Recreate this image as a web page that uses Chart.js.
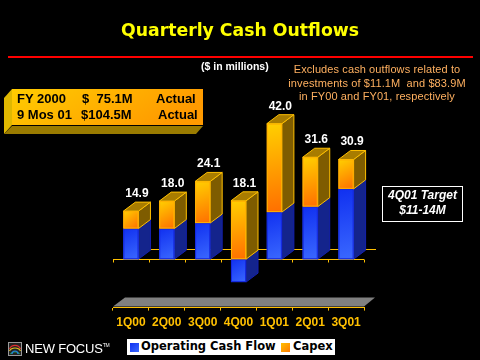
<!DOCTYPE html>
<html>
<head>
<meta charset="utf-8">
<style>
  html, body { margin: 0; padding: 0; background: #000; }
  #stage { position: relative; width: 480px; height: 360px; overflow: hidden; background: #000; }
  #chart { position: absolute; left: 0; top: 0; }
  .txt { position: absolute; white-space: pre; font-family: "Liberation Sans", sans-serif; }
  #title { left: 0; width: 480px; top: 20px; text-align: center; color: #ffff00; font: bold 17.3px "DejaVu Sans", sans-serif; }
  #rule { position: absolute; left: 8px; top: 56px; width: 465px; height: 2px; background: #ff0000; }
  #units { left: 201px; top: 60px; color: #fff; font-size: 10.5px; font-weight: bold; }
  #note { left: 254px; width: 246px; top: 63px; text-align: center; color: #ffb060; font-size: 11px; line-height: 13.5px; letter-spacing: 0.1px; }
  #box { position: absolute; left: 4px; top: 89px; width: 200px; height: 46px; }
  .boxline { color: #000; font-size: 13px; font-weight: bold; }
  #target { position: absolute; left: 382px; top: 186px; width: 79px; height: 33px; border: 1px solid #fff; color: #fff; font: italic bold 12px/14.5px "Liberation Sans", sans-serif; text-align: center; padding-top: 1px; white-space: pre; }
  #legend { position: absolute; left: 127px; top: 339px; width: 208px; height: 16px; background: #fff; color: #000; font: bold 11.5px/15px "DejaVu Sans", sans-serif; }
  #legend span { position: absolute; top: 0; white-space: pre; }
  #legend i { position: absolute; top: 4px; width: 9px; height: 9px; }
  #brand { left: 25px; top: 341px; color: #fff; font-size: 13px; letter-spacing: -0.2px; }
  #logo { position: absolute; left: 8px; top: 342px; }
</style>
</head>
<body>
<div id="stage">
  <canvas id="chart" width="480" height="360"></canvas>
  <div class="txt" id="title">Quarterly Cash Outflows</div>
  <div id="rule"></div>
  <div class="txt" id="units">($ in millions)</div>
  <div class="txt" id="note">Excludes cash outflows related to
investments of $11.1M  and $83.9M
in FY00 and FY01, respectively</div>
  <svg id="box" viewBox="0 0 200 46">
    <defs>
      <linearGradient id="boxFill" x1="0" y1="0" x2="1" y2="0.3">
        <stop offset="0" stop-color="#ffcc00"/>
        <stop offset="1" stop-color="#ff9a00"/>
      </linearGradient>
    </defs>
    <polygon points="0,9 8,0 8,36 0,45" fill="#e0b800"/>
    <polygon points="8,37 199,37 192,45 0,45" fill="#9a7b00"/>
    <rect x="8" y="0" width="191" height="36" fill="url(#boxFill)"/>
    <rect x="8" y="36" width="191" height="1" fill="#000"/>
  </svg>
  <div class="txt boxline" style="left:17px;top:91px">FY 2000</div>
  <div class="txt boxline" style="left:82px;top:91px">$  75.1M</div>
  <div class="txt boxline" style="left:156px;top:91px">Actual</div>
  <div class="txt boxline" style="left:17px;top:107px">9 Mos 01</div>
  <div class="txt boxline" style="left:81px;top:107px">$104.5M</div>
  <div class="txt boxline" style="left:158px;top:107px">Actual</div>
  <div id="target">4Q01 Target
$11-14M</div>
  <div id="legend">
    <i style="left:3px;background:linear-gradient(135deg,#1030f0,#3a68ff)"></i><span style="left:14px">Operating Cash Flow</span>
    <i style="left:154px;background:linear-gradient(135deg,#ffc000,#ff7a00)"></i><span style="left:166px">Capex</span>
  </div>
  <svg id="logo" width="14" height="14" viewBox="0 0 14 14">
    <rect x="0.5" y="0.5" width="13" height="13" fill="#222" stroke="#999"/>
    <path d="M1.5 7 A6 6 0 0 1 12.5 7" fill="none" stroke="#e03030" stroke-width="1.2"/>
    <path d="M1.5 9 A6 5 0 0 1 12.5 9" fill="none" stroke="#e0c020" stroke-width="1.2"/>
    <path d="M2.5 12 A5 4 0 0 1 11.5 12" fill="none" stroke="#20b060" stroke-width="1.2"/>
    <path d="M4 12 A3 3 0 0 1 10 12" fill="none" stroke="#2080e0" stroke-width="1.2"/>
  </svg>
  <div class="txt" id="brand">NEW FOCUS<sup style="font-size:5px;vertical-align:6px">TM</sup></div>
</div>

<script src="https://cdn.jsdelivr.net/npm/chart.js@4/dist/chart.umd.js"></script>
<script>
// --- data ---
const quarters = ['1Q00', '2Q00', '3Q00', '4Q00', '1Q01', '2Q01', '3Q01'];
const operatingCashFlow = [9.5, 9.5, 11.2, -7.1, 14.6, 16.3, 21.8];
const capex = [5.4, 8.5, 12.9, 18.1, 27.4, 15.3, 9.1];
const totals = ['14.9', '18.0', '24.1', '18.1', '42.0', '31.6', '30.9'];

const DX = 12, DY = 9; // depth of the fake 3D
const YELLOW = '#ffc000';

function poly(ctx, pts, fill, stroke) {
  ctx.beginPath();
  pts.forEach((p, i) => i ? ctx.lineTo(p[0], p[1]) : ctx.moveTo(p[0], p[1]));
  ctx.closePath();
  ctx.fillStyle = fill;
  ctx.fill();
  if (stroke) {
    ctx.strokeStyle = stroke;
    ctx.lineWidth = 1;
    ctx.stroke();
  }
}

// floor, back wall line and zero line go behind the bars
const floorPlugin = {
  id: 'floor',
  beforeDatasetsDraw(chart) {
    const { ctx, chartArea: a, scales: { y } } = chart;
    const zero = Math.round(y.getPixelForValue(0)) + 0.5;
    poly(ctx, [[a.left, a.bottom - 1], [a.left + DX, a.bottom - 10], [a.right + DX - 1, a.bottom - 10], [a.right, a.bottom - 1]], '#808080');
    ctx.strokeStyle = YELLOW;
    ctx.lineWidth = 1;
    ctx.beginPath();
    ctx.moveTo(a.left, zero);
    ctx.lineTo(a.right, zero);
    ctx.moveTo(a.left + DX, zero - DY - 1);
    ctx.lineTo(a.right + DX, zero - DY - 1);
    for (let i = 0; i <= quarters.length; i++) {
      const t = Math.round(a.left + i * (a.right - a.left) / quarters.length) + 0.5;
      ctx.moveTo(t, zero);
      ctx.lineTo(t, zero + 3);
    }
    ctx.stroke();
  }
};

// sides, tops and gradient fronts on top of the elements Chart.js placed
const boxPlugin = {
  id: 'box3d',
  afterDatasetsDraw(chart) {
    const ctx = chart.ctx;
    const opBars = chart.getDatasetMeta(0).data;
    const capBars = chart.getDatasetMeta(1).data;
    const paint = (el, side, top, from, to, edge, sideEdge) => {
      const l = el.x - el.width / 2, r = el.x + el.width / 2;
      const t = Math.min(el.y, el.base), b = Math.max(el.y, el.base);
      poly(ctx, [[r, t], [r + DX, t - DY], [r + DX, b - DY], [r, b]], side, sideEdge);
      if (top) poly(ctx, [[l, t], [l + DX, t - DY], [r + DX, t - DY], [r, t]], top, sideEdge);
      const g = ctx.createLinearGradient(l, t, r, b);
      g.addColorStop(0, from);
      g.addColorStop(1, to);
      ctx.fillStyle = g;
      ctx.fillRect(l, t, el.width, b - t);
      ctx.strokeStyle = edge;
      ctx.lineWidth = 1;
      ctx.strokeRect(l + 0.5, t + 0.5, el.width - 1, b - t - 1);
    };
    quarters.forEach((q, i) => {
      paint(opBars[i], '#14248c', null, '#1030f0', '#3a68ff', '#1428e0', '#1420b0');
      paint(capBars[i], '#7e5c00', '#a87c00', '#ffd000', '#ff6e00', '#ffb000', YELLOW);
    });
    ctx.fillStyle = '#fff';
    ctx.font = 'bold 12px "Liberation Sans", sans-serif';
    ctx.textAlign = 'center';
    ctx.textBaseline = 'alphabetic';
    totals.forEach((t, i) => {
      ctx.fillText(t, capBars[i].x + 6, capBars[i].y - DY - 5);
    });
  }
};

new Chart(document.getElementById('chart'), {
  type: 'bar',
  data: {
    labels: quarters,
    datasets: [
      { label: 'Operating Cash Flow', data: operatingCashFlow, backgroundColor: '#1a3cf0', stack: 'q' },
      { label: 'Capex', data: capex, backgroundColor: '#ff9a10', stack: 'q' }
    ]
  },
  plugins: [floorPlugin, boxPlugin],
  options: {
    responsive: false,
    animation: false,
    categoryPercentage: 1,
    barPercentage: 0.42,
    layout: { padding: { left: 113, right: 116, top: 114, bottom: 25 } },
    plugins: { legend: { display: false }, title: { display: false }, tooltip: { enabled: false } },
    scales: {
      x: {
        stacked: true,
        border: { color: YELLOW, width: 1 },
        grid: { drawOnChartArea: false, color: YELLOW, tickLength: 3 },
        ticks: { color: YELLOW, maxRotation: 0, padding: 5, font: { family: '"Liberation Sans", sans-serif', size: 12, weight: 'bold' } }
      },
      y: { display: false, stacked: true, min: -15, max: 45 }
    }
  }
});
</script>
</body>
</html>
